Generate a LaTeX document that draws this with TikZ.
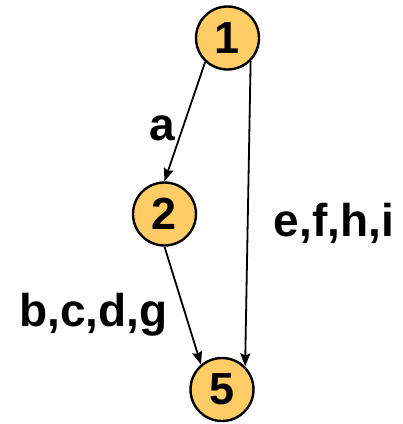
\documentclass[tikz,border=0pt]{standalone}
\usepackage{fontspec}
\setmainfont{Liberation Sans}
\usetikzlibrary{arrows.meta}
\definecolor{stategold}{RGB}{255,204,102}

\begin{document}
\begin{tikzpicture}[
  x=1pt, y=-1pt,
  state/.style={circle, draw, line width=2.4pt, fill=stategold, minimum size=63pt, inner sep=0pt, font=\fontsize{45}{45}\selectfont\bfseries},
  lbl/.style={font=\fontsize{46}{46}\selectfont\bfseries, inner sep=0pt},
  arr/.style={-{Stealth[length=13pt,width=10pt,inset=2pt]}, line width=1.8pt}
]
\useasboundingbox (0,0) rectangle (403,424);
\node[state] (s1) at (227.5,38) {1};
\node[state] (s2) at (164.5,214) {2};
\node[state] (s5) at (222,389.5) {5};
\draw[arr] (s1.-133) -- (s2.north);
\draw[arr] (s1.-45) -- (s5.45);
\draw[arr] (s2.south) -- (s5.130);
\node[lbl, anchor=base] (la) at (162,140) {a};
\node[lbl, anchor=base] (lefhi) at (334,236) {e,f,h,i};
\node[lbl, anchor=base] (lbcdg) at (93.5,326) {b,c,d,g};
\end{tikzpicture}
\end{document}
